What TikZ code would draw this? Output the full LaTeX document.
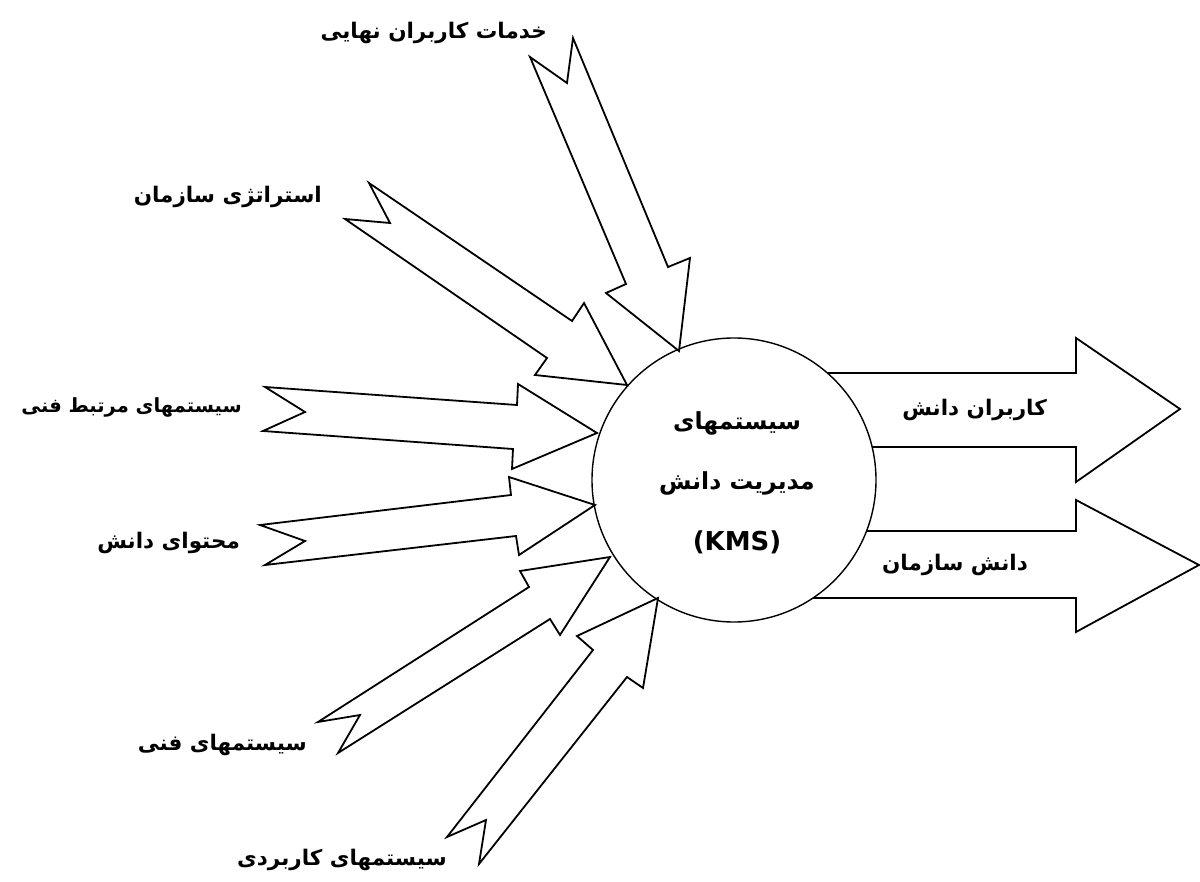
\documentclass[tikz,border=0pt]{standalone}
\usepackage{fontspec}
\TeXXeTstate=1
\setmainfont{DejaVu Sans}
\newfontfamily\arabicfont[Script=Arabic]{DejaVu Sans}
\begin{document}
\begin{tikzpicture}[x=1pt,y=-1pt,
  blockarrow/.style={draw=black, fill=white, line width=1.8pt, line join=miter},
  hub/.style={circle, draw=black, fill=white, line width=1.4pt, minimum size=284pt, inner sep=0pt},
  lbl/.style={font=\arabicfont\bfseries\fontsize{21.5}{24}\selectfont, anchor=east, inner sep=0pt},
  ctr/.style={font=\arabicfont\bfseries\fontsize{23.5}{27}\selectfont, anchor=center, inner sep=0pt}]
\useasboundingbox (0,0) rectangle (1200,882);
\fill[white] (0,0) rectangle (1200,882);

% outgoing arrows (drawn first, the circle covers their start)
\draw[blockarrow] (800,373) -- (1076,373) -- (1076,338) -- (1180,409) -- (1076,482) -- (1076,447) -- (800,447) -- cycle;
\draw[blockarrow] (800,531) -- (1076,531) -- (1076,500) -- (1199,565) -- (1076,632) -- (1076,598) -- (800,598) -- cycle;

% central circle
\node[hub] (kms) at (734,480) {};

% incoming arrows
\draw[blockarrow] (573,38) -- (668,267) -- (690,258) -- (679,351) -- (606,293) -- (626,284) -- (530,57) -- (567,83) -- cycle;
\draw[blockarrow] (369,183) -- (572,321) -- (584,303) -- (627,385) -- (535,375) -- (547,358) -- (345,219) -- (390,223) -- cycle;
\draw[blockarrow] (265,387) -- (517,405) -- (518,384) -- (597,433) -- (512,469) -- (513,449) -- (263,431) -- (305,412) -- cycle;
\draw[blockarrow] (260,525) -- (511,495) -- (509,477) -- (595,505) -- (519,555) -- (516,536) -- (265,565) -- (305,541) -- cycle;
\draw[blockarrow] (318,722) -- (529,587) -- (520,571) -- (610,557) -- (560,635) -- (550,619) -- (338,753) -- (360,715) -- cycle;
\draw[blockarrow] (447,837) -- (593,650) -- (577,636) -- (658,598) -- (643,688) -- (627,677) -- (479,864) -- (486,820) -- cycle;

% centre text
\node[ctr] (c1) at (737,423) {\beginR سیستمهای\endR};
\node[ctr] (c2) at (737,483) {\beginR مدیریت دانش\endR};
\node[ctr, font=\bfseries\fontsize{26}{30}\selectfont] (c3) at (737,542) {(KMS)};

% labels
\node[lbl] (l1) at (547,33) {\beginR خدمات کاربران نهایی\endR};
\node[lbl] (l2) at (322,197) {\beginR استراتژی سازمان\endR};
\node[lbl, font=\arabicfont\bfseries\fontsize{19.5}{22}\selectfont] (l3) at (242,407) {\beginR سیستمهای مرتبط فنی\endR};
\node[lbl] (l4) at (240,543) {\beginR محتوای دانش\endR};
\node[lbl] (l5) at (307,745) {\beginR سیستمهای فنی\endR};
\node[lbl] (l6) at (447,860) {\beginR سیستمهای کاربردی\endR};
\node[lbl] (r1) at (1047,410) {\beginR کاربران دانش\endR};
\node[lbl] (r2) at (1028,565) {\beginR دانش سازمان\endR};
\end{tikzpicture}
\end{document}
